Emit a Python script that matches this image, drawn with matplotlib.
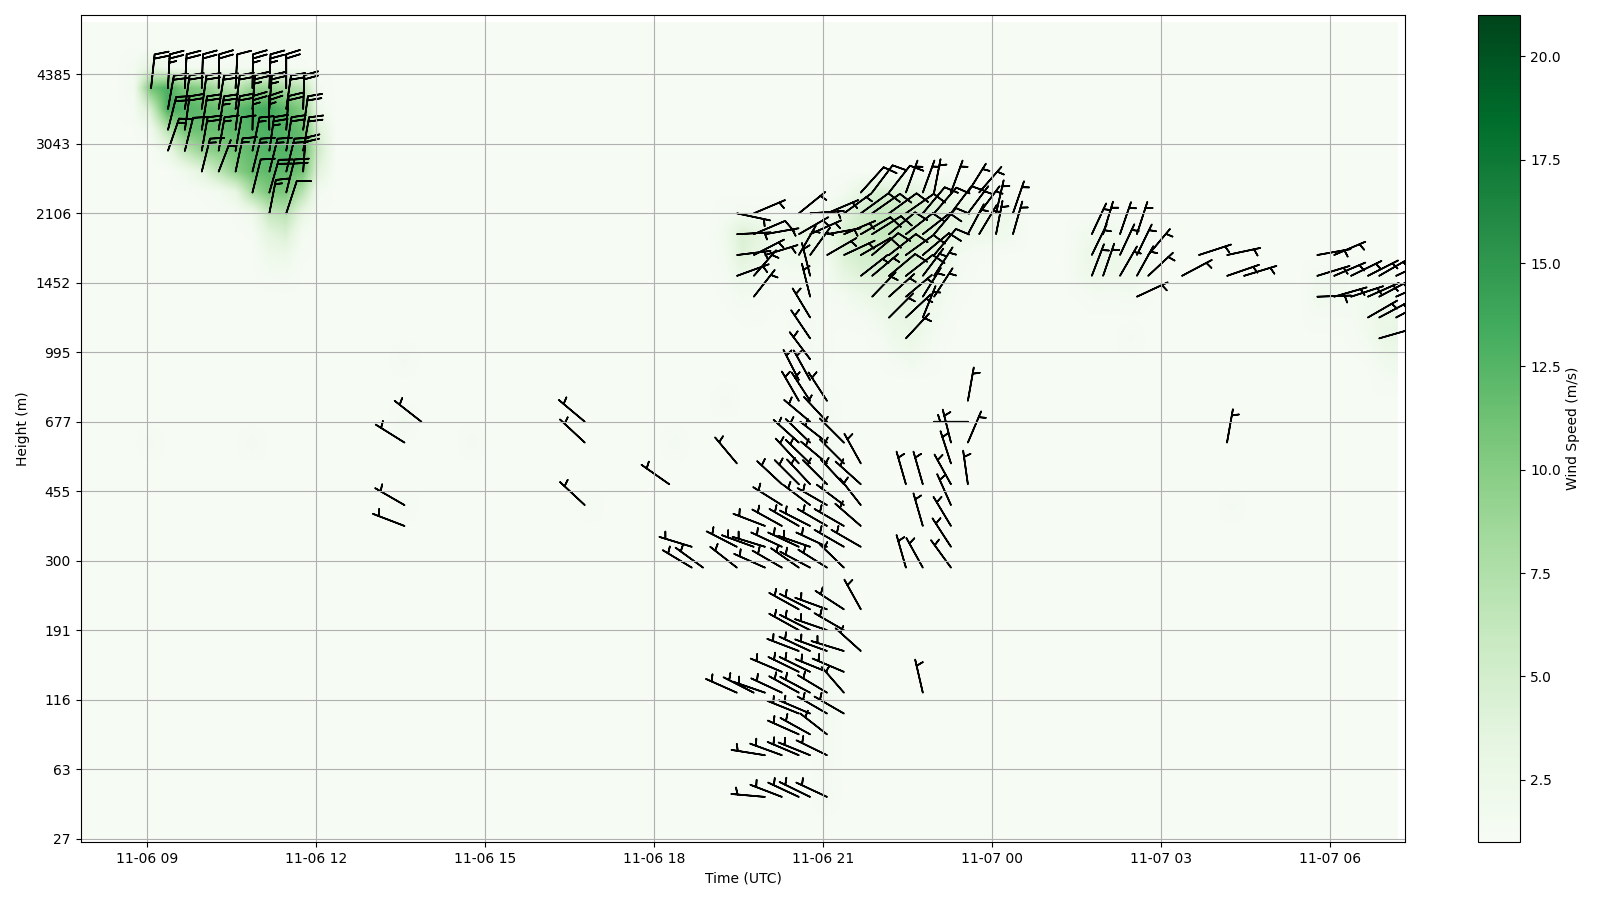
"""Wind profiler time-height section: speed shading with barbs on top."""
from datetime import datetime, timedelta

import matplotlib
matplotlib.use("Agg")
import matplotlib.dates as mdates
import matplotlib.patches as mpatches
import matplotlib.pyplot as plt
import numpy as np

T0 = datetime(2024, 11, 6, 9, 4)
CELL_MIN = 6

height_ticks = [27, 63, 116, 191, 300, 455, 677, 995, 1452, 2106, 3043, 4385]
level_ticks = [0, 10, 20, 30, 40, 50, 60, 70, 80, 90, 100, 110]

# Barbs. Each row: one height level, cells are 6-minute steps from T0,
# dirs are degrees the staff points at on screen, speeds are in barb units.
top_levels = [108, 105, 102, 99, 96, 93, 90]
top_cells = [
    [0, 3, 6, 9, 12, 15, 18, 21, 24],
    [3, 6, 9, 12, 15, 18, 21, 24, 27],
    [3, 6, 9, 12, 15, 18, 21, 24, 27],
    [3, 6, 9, 12, 15, 18, 21, 24, 27],
    [9, 12, 15, 18, 21, 24, 27],
    [18, 21, 24],
    [21, 24],
]
top_speeds = [
    [20, 25, 20, 20, 20, 10, 25, 25, 20],
    [20, 20, 20, 20, 20, 25, 25, 20, 20],
    [20, 20, 20, 25, 20, 25, 25, 20, 20],
    [15, 10, 20, 15, 10, 15, 25, 20, 20],
    [15, 5, 15, 15, 15, 20, 20],
    [10, 20, 20],
    [15, 10],
]
top_dirs = [
    [6, 3, 3, 2, 1, 3, 1, 2, 0],
    [10, 8, 8, 9, 7, 4, 4, 8, 2],
    [14, 8, 9, 9, 7, 1, -1, 4, 8],
    [19, 14, 10, 10, 10, 12, 8, 9, 10],
    [14, 21, 12, 14, 14, 14, 4],
    [14, 16, 14],
    [11, 18],
]

north_levels = [93, 90, 87, 84, 81, 78, 75, 72, 69]
north_cells = [
    [126, 128, 131, 134, 137, 139, 142, 145, 147],
    [104, 107, 115, 117, 120, 123, 126, 128, 131, 134, 137, 139, 142, 145, 147, 150, 153],
    [104, 107, 109, 115, 117, 120, 123, 126, 128, 131, 134, 137, 139, 145, 147, 150, 153],
    [104, 107, 109, 115, 117, 120, 123, 126, 128, 131, 134, 137, 139],
    [104, 107, 117, 126, 128, 131, 134, 137, 139],
    [107, 117, 128, 131, 134, 137, 139],
    [117, 131, 134, 137],
    [117, 134],
    [117],
]
north_speeds = [
    [10, 10, 10, 5, 5, 5, 5, 5, 5],
    [5, 5, 5, 5, 5, 5, 10, 10, 10, 10, 10, 10, 10, 5, 5, 5, 5],
    [5, 10, 5, 5, 5, 5, 5, 10, 10, 10, 10, 10, 10, 5, 5, 5, 5],
    [5, 5, 5, 5, 5, 5, 5, 10, 10, 10, 10, 10, 10],
    [5, 5, 5, 5, 5, 10, 10, 5, 5],
    [5, 5, 5, 5, 5, 5, 5],
    [5, 5, 5, 5],
    [5, 5],
    [5],
]
north_dirs = [
    [42, 37, 38, 20, 20, 11, 20, 32, 41],
    [102, 67, 51, 86, 67, 54, 54, 55, 54, 55, 40, 41, 37, 37, 37, 13, 19],
    [87, 67, 80, 60, 66, 80, 67, 60, 58, 50, 52, 52, 40, 28, 31, 11, 16],
    [83, 63, 73, 30, 36, 60, 65, 60, 50, 52, 54, 50, 40],
    [70, 41, -14, 52, 50, 50, 52, 37, 33],
    [38, -14, 44, 48, 50, 32, 33],
    [-31, 45, 47, 22],
    [-34, 43],
    [-37],
]

mid_levels = [66, 63, 60, 57, 54, 51, 48, 45, 42, 39]
mid_cells = [
    [115, 117],
    [115, 117, 120, 145],
    [48, 77, 117, 120, 145],
    [45, 77, 115, 117, 120, 123, 142, 145, 191],
    [104, 115, 117, 120, 123, 126, 142],
    [92, 112, 115, 117, 120, 123, 126, 134, 137, 142, 145],
    [45, 77, 112, 117, 120, 123, 126, 142],
    [45, 109, 112, 115, 117, 120, 123, 126, 137, 142],
    [96, 104, 107, 109, 112, 115, 117, 120, 123, 126, 142],
    [96, 98, 104, 109, 112, 115, 117, 120, 123, 134, 137, 142],
]
mid_dirs = [
    [-27, -29],
    [-30, -33, -33, 10],
    [-52, -50, -50, -43, -90],
    [-58, -47, -48, -46, -52, -45, -14, 23, 10],
    [-40, -43, -46, -50, -45, -29, -18],
    [-55, -47, -45, -43, -45, -43, -48, -16, -16, -29, -8],
    [-60, -47, -58, -53, -60, -53, -38, -24],
    [-69, -69, -61, -60, -63, -60, -60, -49, -16, -31],
    [-73, -63, -70, -73, -65, -65, -71, -65, -60, -60, -33],
    [-59, -54, -52, -66, -60, -55, -62, -58, -46, -16, -29, -36],
]

low_levels = [33, 30, 27, 24, 21, 18, 15, 12, 6]
low_cells = [
    [115, 117, 120, 123, 126],
    [115, 117, 120, 123],
    [115, 117, 120, 123, 126],
    [112, 115, 117, 120, 123],
    [104, 107, 109, 112, 115, 117, 120, 123, 137],
    [115, 117, 120, 123],
    [115, 117, 120],
    [109, 112, 115, 117, 120],
    [109, 112, 115, 117, 120],
]
low_dirs = [
    [-61, -63, -70, -57, -29],
    [-61, -63, -71, -60],
    [-69, -65, -70, -73, -48],
    [-67, -64, -64, -68, -67],
    [-66, -63, -71, -65, -61, -62, -59, -41, -13],
    [-68, -67, -60, -60],
    [-66, -61, -52],
    [-81, -70, -67, -68, -64],
    [-85, -69, -65, -64, -65],
]

east_levels = [87, 84, 81, 78, 75, 72]
east_cells = [
    [167, 169, 172, 175],
    [167, 172, 175, 177, 186, 191, 207, 210],
    [167, 169, 172, 175, 177, 183, 191, 194, 207, 210, 213, 216, 218, 221],
    [175, 207, 210, 213, 216, 218, 221],
    [216, 218, 221],
    [218],
]
east_dirs = [
    [25, 17, 19, 18],
    [26, 25, 26, 40, 72, 78, 80, 67],
    [21, 19, 30, 29, 47, 62, 71, 73, 73, 67, 64, 63, 60, 65],
    [65, 88, 74, 72, 66, 62, 66],
    [60, 62, 62],
    [74],
]

# Speed shading (m/s) on a coarse lattice of every third cell and level.
heat_background = 1.1
blob_a_first_col = -1
blob_a_levels = [111, 108, 105, 102, 99, 96, 93, 90, 87, 84, 81]
blob_a = [
    [1.6, 3.5, 2.0, 1.5, 1.5, 1.4, 1.5, 1.5, 1.5, 1.5, 1.2, 1.1],
    [1.8, 11.0, 13.0, 10.5, 10.0, 8.0, 6.5, 9.0, 9.0, 8.0, 7.0, 1.5],
    [1.5, 5.0, 13.0, 12.5, 12.0, 11.5, 12.0, 13.0, 13.5, 12.0, 10.0, 2.0],
    [1.1, 2.0, 7.0, 11.0, 11.5, 11.5, 12.0, 12.5, 13.0, 12.5, 11.5, 4.0],
    [1.1, 1.1, 2.5, 6.5, 9.0, 10.0, 11.0, 12.0, 12.5, 12.5, 12.0, 5.0],
    [1.1, 1.1, 1.1, 2.0, 3.5, 6.5, 9.5, 11.5, 12.0, 12.0, 11.0, 3.5],
    [1.1, 1.1, 1.1, 1.1, 1.2, 1.6, 3.0, 8.0, 10.5, 10.5, 7.0, 1.5],
    [1.1, 1.1, 1.1, 1.1, 1.1, 1.1, 1.2, 2.0, 6.0, 7.0, 3.0, 1.1],
    [1.1, 1.1, 1.1, 1.1, 1.1, 1.1, 1.1, 1.2, 3.5, 4.5, 1.5, 1.1],
    [1.1, 1.1, 1.1, 1.1, 1.1, 1.1, 1.1, 1.1, 2.2, 2.5, 1.2, 1.1],
    [1.1, 1.1, 1.1, 1.1, 1.1, 1.1, 1.1, 1.1, 1.4, 1.5, 1.1, 1.1],
]

blob_b_first_col = 34
blob_b_levels = [93, 90, 87, 84, 81, 78, 75, 72, 69]
blob_b = [
    [1.1, 1.1, 1.1, 1.1, 1.1, 1.1, 1.2, 1.6, 3.0, 4.5, 4.2, 3.6, 3.2, 2.8, 1.6, 1.2, 1.2, 1.1],
    [1.4, 1.6, 1.5, 1.4, 1.5, 1.6, 1.7, 3.5, 5.0, 6.0, 6.0, 5.5, 4.6, 3.8, 3.0, 2.5, 2.4, 2.2],
    [2.0, 4.5, 3.5, 2.2, 3.0, 3.3, 2.5, 4.5, 5.5, 6.0, 6.2, 5.6, 4.6, 3.5, 2.8, 2.3, 2.2, 1.8],
    [1.7, 4.0, 3.0, 1.8, 2.2, 2.5, 1.8, 4.2, 5.0, 5.2, 5.2, 5.0, 4.0, 2.8, 1.6, 1.2, 1.2, 1.1],
    [1.4, 2.5, 2.0, 1.4, 1.5, 1.6, 1.5, 3.2, 4.0, 4.2, 4.2, 4.0, 3.2, 2.2, 1.4, 1.1, 1.1, 1.1],
    [1.2, 1.7, 1.5, 1.2, 1.2, 1.5, 1.4, 1.6, 2.4, 3.0, 3.4, 3.4, 2.6, 1.7, 1.2, 1.1, 1.1, 1.1],
    [1.1, 1.2, 1.2, 1.1, 1.2, 1.5, 1.2, 1.2, 1.4, 2.0, 2.8, 3.0, 2.2, 1.4, 1.1, 1.1, 1.1, 1.1],
    [1.1, 1.1, 1.1, 1.1, 1.2, 1.5, 1.2, 1.1, 1.1, 1.3, 2.2, 2.7, 1.8, 1.2, 1.1, 1.1, 1.1, 1.1],
    [1.1, 1.1, 1.1, 1.1, 1.2, 1.4, 1.2, 1.1, 1.1, 1.1, 1.5, 2.0, 1.5, 1.1, 1.1, 1.1, 1.1, 1.1],
]

blob_c_first_col = 55
blob_c_levels = [87, 84, 81, 78]
blob_c = [
    [1.7, 2.4, 2.0, 1.6, 1.2],
    [2.0, 2.8, 2.5, 2.0, 1.6],
    [1.9, 2.5, 2.2, 2.2, 1.7],
    [1.2, 1.5, 1.4, 1.6, 1.2],
]

blob_d_first_col = 69
blob_d_levels = [81, 78, 75, 72, 69, 66]
blob_d = [
    [1.7, 1.7, 1.6, 1.6, 1.6, 1.6],
    [1.9, 1.7, 1.6, 1.7, 2.0, 2.0],
    [1.4, 1.4, 1.4, 2.0, 2.6, 2.7],
    [1.1, 1.1, 1.2, 1.7, 2.8, 3.0],
    [1.1, 1.1, 1.1, 1.2, 2.0, 2.3],
    [1.1, 1.1, 1.1, 1.1, 1.4, 1.5],
]

# Pale band under the mid-height cluster: column 40, levels and speed.
band_levels = [6, 9, 12, 15, 18, 21, 24, 27, 30, 33, 36, 39, 42, 45, 48, 51, 54, 57, 60, 63]
band_speeds = [1.6, 1.5, 1.6, 1.6, 1.7, 1.7, 1.7, 1.7, 1.6, 1.6, 1.5, 1.5, 1.6, 1.6, 1.6, 1.6, 1.6, 1.6, 1.7, 1.5]

# Isolated faint specks: column, level, speed
speck_cols = [15, 0, 6, 19, 34, 31, 58, 64, 15, 26, 15]
speck_levels = [69, 57, 57, 57, 63, 57, 72, 48, 60, 48, 48]
speck_speeds = [1.6, 1.5, 1.6, 1.6, 1.6, 1.6, 1.5, 1.5, 1.8, 1.5, 1.6]


def cell_time(n):
    return T0 + timedelta(minutes=CELL_MIN * float(n))


def cell_num(n):
    return mdates.date2num(cell_time(n))


def build_heat():
    first_col, last_col, top_level = -4, 74, 120
    heat = np.full((top_level // 3 + 1, last_col - first_col + 1), heat_background)
    for col0, levels, rows in [
        (blob_a_first_col, blob_a_levels, blob_a),
        (blob_b_first_col, blob_b_levels, blob_b),
        (blob_c_first_col, blob_c_levels, blob_c),
        (blob_d_first_col, blob_d_levels, blob_d),
    ]:
        for level, row in zip(levels, rows):
            for i, val in enumerate(row):
                heat[level // 3, col0 + i - first_col] = val
    for level, val in zip(band_levels, band_speeds):
        heat[level // 3, 40 - first_col] = val
    for col, level, val in zip(speck_cols, speck_levels, speck_speeds):
        heat[level // 3, col - first_col] = val
    extent = [cell_num(3 * first_col - 1.5), cell_num(3 * last_col + 1.5),
              -1.5, top_level + 1.5]
    return heat, extent


def collect_barbs():
    groups = [
        (top_levels, top_cells, top_speeds, top_dirs),
        (north_levels, north_cells, north_speeds, north_dirs),
        (mid_levels, mid_cells, None, mid_dirs),
        (low_levels, low_cells, None, low_dirs),
        (east_levels, east_cells, None, east_dirs),
    ]
    x, y, speed, direction = [], [], [], []
    for levels, cells, speeds, dirs in groups:
        for r, level in enumerate(levels):
            for i, n in enumerate(cells[r]):
                x.append(cell_num(n))
                y.append(level)
                speed.append(speeds[r][i] if speeds is not None else 5)
                direction.append(dirs[r][i])
    speed = np.array(speed, dtype=float)
    rad = np.deg2rad(direction)
    return np.array(x), np.array(y), -speed * np.sin(rad), -speed * np.cos(rad)


fig = plt.figure(figsize=(16, 9), dpi=100)
ax = fig.add_axes([80.7 / 1600, 58.2 / 900, 1324.6 / 1600, 826.8 / 900])
cax = fig.add_axes([1478.3 / 1600, 58.2 / 900, 42.0 / 1600, 826.8 / 900])

heat, extent = build_heat()
im = ax.imshow(heat, origin="lower", extent=extent, aspect="auto", cmap="Greens",
               vmin=1, vmax=21, interpolation="bilinear")
# the shaded field stops a little short of the frame on every side
mesh_x0, mesh_x1 = cell_num(-12.2), cell_num(221.4)
im.set_clip_path(mpatches.Rectangle((mesh_x0, 0), mesh_x1 - mesh_x0, 117.6,
                                    transform=ax.transData))

bx, by, bu, bv = collect_barbs()
ax.barbs(bx, by, bu, bv, length=7, linewidth=1.2, color="black")

ax.set_xlim(cell_num(-12.49), cell_num(222.65))
ax.set_ylim(-0.46, 118.55)
ax.set_yticks(level_ticks)
ax.set_yticklabels([str(h) for h in height_ticks])
ax.xaxis.set_major_locator(mdates.HourLocator(byhour=range(0, 24, 3)))
ax.xaxis.set_major_formatter(mdates.DateFormatter("%m-%d %H"))
ax.set_xlabel("Time (UTC)")
ax.set_ylabel("Height (m)")
ax.grid(True)

cbar = fig.colorbar(im, cax=cax)
cbar.set_ticks([2.5, 5, 7.5, 10, 12.5, 15, 17.5, 20])
cbar.set_label("Wind Speed (m/s)")

fig.savefig("out.png", dpi=100)
